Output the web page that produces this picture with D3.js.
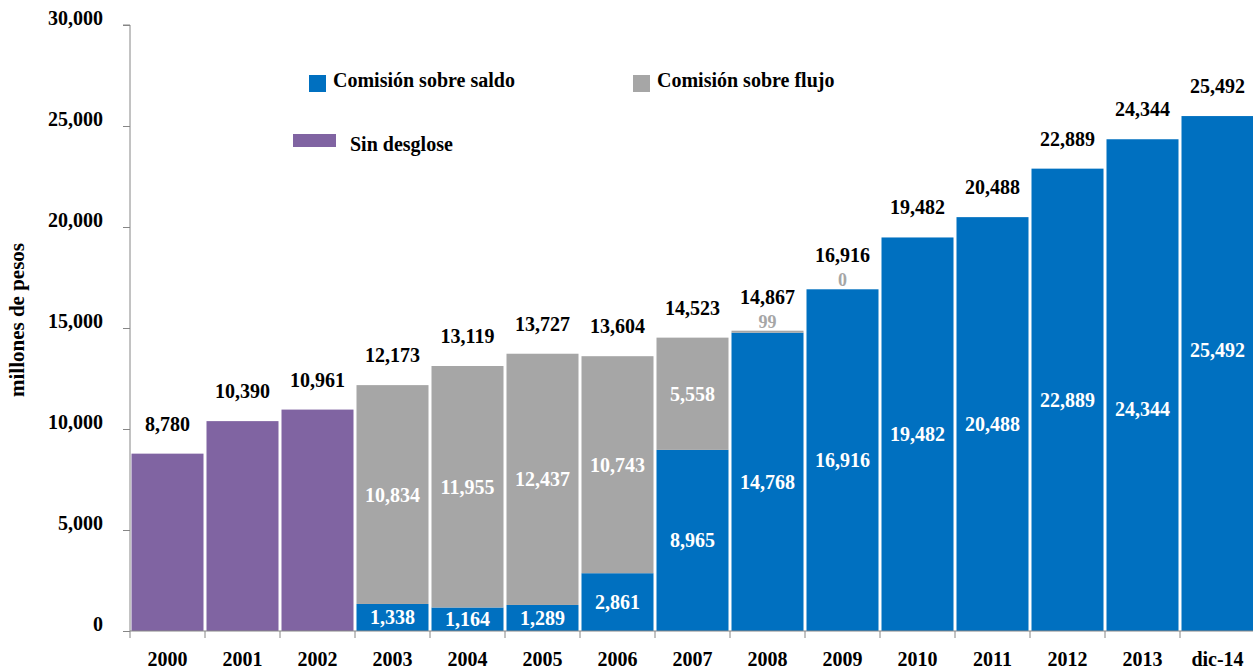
<!DOCTYPE html>
<html>
<head>
<meta charset="utf-8">
<script src="https://cdn.jsdelivr.net/npm/d3@7"></script>
<style>
  body { margin: 0; background: #fff; }
  text { font-family: "Liberation Serif", "DejaVu Serif", serif; font-weight: bold; }
</style>
</head>
<body>
<div id="chart"></div>
<script>
// categories on the x axis
var years = ['2000', '2001', '2002', '2003', '2004', '2005', '2006', '2007',
             '2008', '2009', '2010', '2011', '2012', '2013', 'dic-14'];

// series (millones de pesos), null = not shown
var sinDesglose = [8780, 10390, 10961, null, null, null, null, null,
                   null, null, null, null, null, null, null];
var saldo = [null, null, null, 1338, 1164, 1289, 2861, 8965,
             14768, 16916, 19482, 20488, 22889, 24344, 25492];
var flujo = [null, null, null, 10834, 11955, 12437, 10743, 5558,
             99, 0, null, null, null, null, null];
var totals = [8780, 10390, 10961, 12173, 13119, 13727, 13604, 14523,
              14867, 16916, 19482, 20488, 22889, 24344, 25492];

var yTicks = [0, 5000, 10000, 15000, 20000, 25000, 30000];

var colors = { saldo: '#0070c0', flujo: '#a6a6a6', sin: '#8064a2' };

function main(){
    var W = 1253, H = 671;
    var fmt = d3.format(',');

    var svg = d3.select('#chart').append('svg')
                .attr('width', W)
                .attr('height', H);

    var x = d3.scaleBand()
              .domain(years)
              .range([130, 1255])
              .paddingInner(0.04)
              .paddingOuter(0.02);
    var y = d3.scaleLinear()
              .domain([0, 30000])
              .range([631, 25]);

    // stacked rows: saldo at bottom, flujo on top, purple alone
    var rows = years.map(function(d, i){
        return { year: d, sin: sinDesglose[i], saldo: saldo[i], flujo: flujo[i], total: totals[i] };
    });
    var tiny = function(d){ return d.flujo !== null && d.flujo < 1000; };

    var g = svg.append('g');

    // purple bars
    g.selectAll('.sin')
     .data(rows.filter(function(d){ return d.sin !== null; }))
     .enter().append('rect')
       .attr('x', function(d){ return x(d.year); })
       .attr('width', x.bandwidth())
       .attr('y', function(d){ return y(d.sin); })
       .attr('height', function(d){ return y(0) - y(d.sin); })
       .attr('fill', colors.sin);

    // blue bars
    g.selectAll('.saldo')
     .data(rows.filter(function(d){ return d.saldo !== null; }))
     .enter().append('rect')
       .attr('x', function(d){ return x(d.year); })
       .attr('width', x.bandwidth())
       .attr('y', function(d){ return y(d.saldo); })
       .attr('height', function(d){ return y(0) - y(d.saldo); })
       .attr('fill', colors.saldo);

    // gray bars on top of blue
    g.selectAll('.flujo')
     .data(rows.filter(function(d){ return d.flujo !== null && d.flujo > 0; }))
     .enter().append('rect')
       .attr('x', function(d){ return x(d.year); })
       .attr('width', x.bandwidth())
       .attr('y', function(d){ return y(d.saldo + d.flujo); })
       .attr('height', function(d){ return y(d.saldo) - y(d.saldo + d.flujo); })
       .attr('fill', colors.flujo);

    // y axis
    var yAxis = svg.append('g')
        .attr('transform', 'translate(130,0)')
        .call(d3.axisLeft(y).tickValues(yTicks).tickSize(7).tickPadding(20).tickFormat(fmt));
    yAxis.selectAll('path, line').attr('stroke', '#868686');
    yAxis.select('.domain').attr('d', 'M-7,25H0V631');
    yAxis.selectAll('text')
         .attr('dy', '-0.05em')
         .attr('fill', '#000')
         .style('font-size', '20px')
         .style('font-family', '"Liberation Serif", serif');

    // x axis (labels centred, ticks on category boundaries)
    var xAxis = svg.append('g')
        .attr('transform', 'translate(0,631)')
        .call(d3.axisBottom(x).tickSize(0).tickPadding(21));
    xAxis.select('.domain').attr('stroke', '#868686').attr('d', 'M130,0H1253');
    xAxis.selectAll('text')
         .attr('fill', '#000')
         .style('font-size', '20px')
         .style('font-family', '"Liberation Serif", serif');
    xAxis.selectAll('.bound')
         .data(years)
         .enter().append('line')
           .attr('x1', function(d){ return x(d) - x.step() * x.paddingInner() / 2; })
           .attr('x2', function(d){ return x(d) - x.step() * x.paddingInner() / 2; })
           .attr('y1', 0).attr('y2', 7)
           .attr('stroke', '#868686');

    // labels
    var cx = function(d){ return x(d.year) + x.bandwidth() / 2; };
    // a couple of inside labels are offset in the original
    var nudge = { '2013': 24, 'dic-14': -24 };

    // totals above bars
    g.selectAll('.tot')
     .data(rows)
     .enter().append('text')
       .attr('x', cx)
       .attr('y', function(d){ return y(d.total) - (tiny(d) ? 27 : 23); })
       .attr('text-anchor', 'middle')
       .style('font-size', '20px')
       .attr('fill', '#000')
       .text(function(d){ return fmt(d.total); });

    // inside labels: saldo
    g.selectAll('.lsaldo')
     .data(rows.filter(function(d){ return d.saldo !== null; }))
     .enter().append('text')
       .attr('x', cx)
       .attr('y', function(d){ return (y(0) + y(d.saldo)) / 2 + (nudge[d.year] || 0); })
       .attr('dy', '0.35em')
       .attr('text-anchor', 'middle')
       .style('font-size', '20px')
       .attr('fill', '#fff')
       .text(function(d){ return fmt(d.saldo); });

    // flujo labels: inside when big, above bar in gray when tiny
    g.selectAll('.lflujo')
     .data(rows.filter(function(d){ return d.flujo !== null; }))
     .enter().append('text')
       .attr('x', cx)
       .attr('y', function(d){
           if(tiny(d)) return y(d.saldo + d.flujo) - 3;
           return (y(d.saldo) + y(d.saldo + d.flujo)) / 2;
       })
       .attr('dy', function(d){ return tiny(d) ? 0 : '0.35em'; })
       .attr('text-anchor', 'middle')
       .style('font-size', function(d){ return tiny(d) ? '18px' : '20px'; })
       .attr('fill', function(d){ return tiny(d) ? colors.flujo : '#fff'; })
       .text(function(d){ return fmt(d.flujo); });

    // legend
    var leg = svg.append('g');
    leg.append('rect').attr('x', 309).attr('y', 75).attr('width', 17).attr('height', 17).attr('fill', colors.saldo);
    leg.append('text').attr('x', 333).attr('y', 80).attr('dy', '0.35em').style('font-size', '20px').text('Comisión sobre saldo');
    leg.append('rect').attr('x', 633).attr('y', 75).attr('width', 17).attr('height', 17).attr('fill', colors.flujo);
    leg.append('text').attr('x', 657).attr('y', 80).attr('dy', '0.35em').style('font-size', '20px').text('Comisión sobre flujo');
    leg.append('rect').attr('x', 293).attr('y', 134).attr('width', 43).attr('height', 13).attr('fill', colors.sin);
    leg.append('text').attr('x', 350).attr('y', 144).attr('dy', '0.35em').style('font-size', '20px').text('Sin desglose');

    // y title
    svg.append('text')
       .attr('transform', 'translate(24,320) rotate(-90)')
       .attr('text-anchor', 'middle')
       .style('font-size', '21px')
       .text('millones de pesos');
}

main();
</script>
</body>
</html>
